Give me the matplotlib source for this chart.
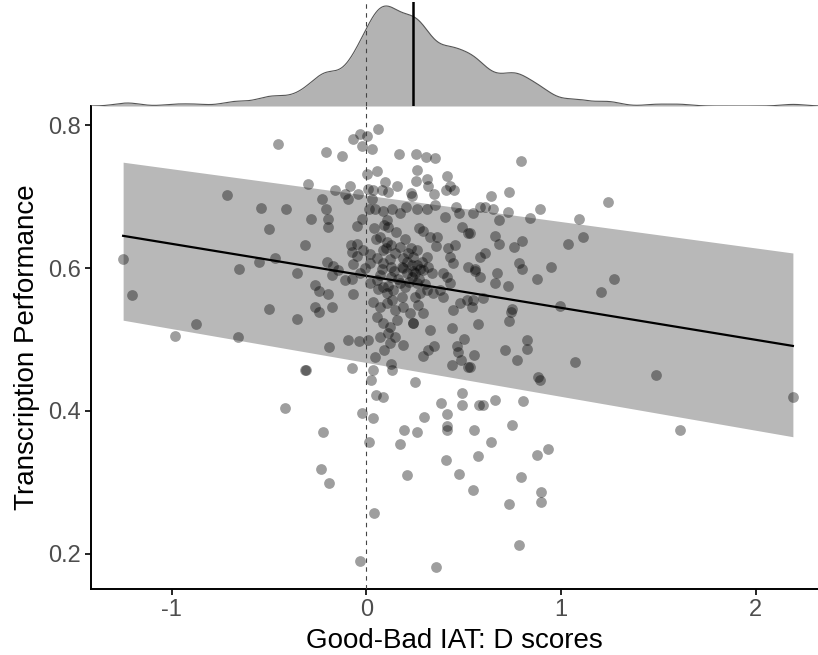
import matplotlib
matplotlib.use("Agg")
import matplotlib.pyplot as plt
import numpy as np

plt.rcParams["font.family"] = ["Liberation Sans", "DejaVu Sans"]

# D scores (x) and transcription performance (y)
iat_d = [
    # far left / outer points
    -1.249, -1.206, -0.985, -0.877, -0.716, -0.658, -0.653, -0.551, -0.542, -0.502,
    -0.500, -0.470, -0.456, -0.413, -0.417,
    # upper cluster
    0.057, -0.033, -0.071, 0.004, -0.025, 0.027, -0.210, -0.126, 0.165, 0.253,
    0.304, 0.352, 0.258, 0.254, 0.056, 0.001, 0.312, 0.415, 0.429, 0.318,
    -0.299, -0.162, -0.085, -0.110, -0.045, -0.093, 0.010, 0.032, 0.078, 0.095,
    0.112, 0.155, 0.227, 0.234, 0.347, 0.407, 0.451, -0.230, 0.027, -0.210,
    -0.196, -0.196, -0.287, -0.025, 0.014, 0.044, 0.083, 0.133, 0.172, 0.203,
    0.258, 0.309, 0.352, 0.271, 0.289, -0.050, 0.040, 0.104, 0.112, 0.403,
    0.460, 0.477, 0.489, 0.523, 0.326, 0.364, 0.357, 0.420, 0.455, -0.316,
    -0.081, -0.050, -0.076, -0.016, -0.047, -0.204, -0.359, -0.171, -0.145,
    # right side
    0.792, 0.733, 0.639, 0.583, 0.609, 0.648, 0.549, 0.728, 0.893, 0.838,
    0.679, 1.240, 1.093, 1.112, 1.035, 0.532, 0.660, 0.679, 0.797, 0.756,
    0.610, 0.785, 0.800, 0.949, 0.556, 0.669, 0.583, 0.874, 1.271,
    0.660, 0.728, 1.203, 0.994, 0.549, 0.600, 0.746, 0.741, 0.733, 0.573,
    0.826, 0.826, 0.713, 0.773, 0.552, 0.532, 1.072, 0.879, 0.891, 1.488,
    0.600, 0.662, 0.804, 0.747, 0.552, 0.638, 2.192, 1.610,
    # lower right
    0.573, 0.874, 0.934, 0.794, 0.547, 0.898, 0.898, 0.732, 0.785,
    # lower middle
    -0.222, 0.014, 0.170, 0.191, 0.258, 0.412, 0.407, 0.475, 0.206, -0.235,
    -0.191, 0.039, -0.032, 0.357,
    # middle band
    -0.179, -0.110, -0.076, -0.265, -0.242, -0.200, -0.068, -0.265, -0.242, -0.176,
    -0.355, -0.191, -0.093, -0.037, 0.009, -0.316, -0.310, -0.076, -0.025, 0.032,
    0.044, 0.032, 0.022, 0.126, 0.133, 0.249, 0.049, 0.086, 0.295, 0.383,
    0.412, 0.415, 0.492, 0.492, 0.578, 0.326, 0.437, 0.500, 0.186, 0.237,
    0.090, 0.292, 0.318, 0.347, 0.437, 0.463, 0.472, 0.484, 0.520,
    # dense centre (upper)
    0.069, 0.104, 0.128, 0.087, 0.146, 0.189, 0.215, 0.240, 0.258, 0.283,
    0.309, 0.232, 0.181, 0.206, 0.249, 0.275, 0.318, 0.335, 0.128, 0.087,
    0.052, 0.018, -0.007, -0.033, -0.068, 0.069, 0.128, 0.394, 0.429, 0.446,
    0.523, 0.557, 0.583,
    # dense centre (lower)
    0.018, 0.052, 0.087, 0.104, 0.138, 0.172, 0.198, 0.232, 0.258, 0.275,
    0.309, 0.343, 0.377, 0.412, 0.429, 0.394, 0.035, 0.069, 0.104, 0.147,
    0.189, 0.223, 0.266, 0.292, 0.052, 0.087, 0.121, 0.155, 0.240, 0.112,
    0.147, 0.069, 0.121, 0.446, 0.480, 0.514, 0.540,
    # overlapping points in the darkest part of the cluster
    0.100, 0.120, 0.140, 0.160, 0.170, 0.190, 0.210, 0.220, 0.240, 0.260,
    0.270, 0.290, 0.300, 0.230, 0.200, 0.110, 0.080, 0.060, 0.130, 0.180,
    0.050, 0.150, 0.090, 0.020, 0.250,
]
performance = [
    0.613, 0.562, 0.505, 0.522, 0.702, 0.503, 0.598, 0.608, 0.684, 0.543,
    0.654, 0.614, 0.774, 0.682, 0.404,
    0.795, 0.788, 0.780, 0.784, 0.770, 0.767, 0.762, 0.757, 0.760, 0.759,
    0.755, 0.754, 0.737, 0.722, 0.736, 0.731, 0.724, 0.728, 0.715, 0.714,
    0.717, 0.709, 0.715, 0.704, 0.703, 0.697, 0.710, 0.709, 0.709, 0.720,
    0.707, 0.714, 0.705, 0.701, 0.704, 0.709, 0.709, 0.697, 0.696, 0.683,
    0.669, 0.657, 0.668, 0.669, 0.683, 0.683, 0.680, 0.682, 0.677, 0.686,
    0.683, 0.682, 0.688, 0.656, 0.652, 0.659, 0.656, 0.667, 0.658, 0.671,
    0.686, 0.677, 0.657, 0.649, 0.643, 0.644, 0.631, 0.628, 0.632, 0.632,
    0.632, 0.634, 0.623, 0.625, 0.617, 0.609, 0.593, 0.603, 0.597,
    0.750, 0.706, 0.701, 0.686, 0.686, 0.683, 0.677, 0.679, 0.682, 0.670,
    0.667, 0.693, 0.669, 0.643, 0.633, 0.649, 0.645, 0.633, 0.638, 0.630,
    0.621, 0.607, 0.599, 0.602, 0.596, 0.593, 0.588, 0.584, 0.585,
    0.579, 0.575, 0.566, 0.547, 0.555, 0.558, 0.542, 0.539, 0.526, 0.521,
    0.499, 0.487, 0.485, 0.471, 0.479, 0.462, 0.469, 0.448, 0.443, 0.450,
    0.409, 0.416, 0.414, 0.381, 0.374, 0.356, 0.419, 0.374,
    0.337, 0.338, 0.347, 0.307, 0.290, 0.287, 0.272, 0.270, 0.212,
    0.370, 0.356, 0.354, 0.373, 0.371, 0.373, 0.332, 0.312, 0.310, 0.319,
    0.299, 0.257, 0.190, 0.182,
    0.590, 0.583, 0.584, 0.576, 0.568, 0.563, 0.563, 0.545, 0.538, 0.545,
    0.529, 0.490, 0.499, 0.498, 0.499, 0.458, 0.458, 0.460, 0.397, 0.390,
    0.475, 0.458, 0.443, 0.466, 0.458, 0.440, 0.422, 0.420, 0.392, 0.411,
    0.396, 0.379, 0.425, 0.409, 0.408, 0.513, 0.516, 0.500, 0.492, 0.523,
    0.485, 0.477, 0.486, 0.491, 0.464, 0.491, 0.482, 0.472, 0.462,
    0.644, 0.637, 0.632, 0.625, 0.621, 0.614, 0.621, 0.616, 0.625, 0.609,
    0.616, 0.604, 0.602, 0.593, 0.593, 0.598, 0.602, 0.593, 0.602, 0.607,
    0.614, 0.607, 0.600, 0.593, 0.605, 0.590, 0.588, 0.593, 0.616, 0.607,
    0.602, 0.598, 0.616,
    0.579, 0.583, 0.574, 0.565, 0.569, 0.579, 0.574, 0.588, 0.579, 0.565,
    0.569, 0.565, 0.569, 0.588, 0.579, 0.560, 0.553, 0.546, 0.551, 0.541,
    0.546, 0.537, 0.548, 0.537, 0.532, 0.523, 0.518, 0.527, 0.523, 0.509,
    0.504, 0.504, 0.495, 0.541, 0.551, 0.555, 0.546,
    0.628, 0.612, 0.596, 0.585, 0.630, 0.600, 0.608, 0.580, 0.596, 0.604,
    0.585, 0.597, 0.578, 0.628, 0.640, 0.575, 0.598, 0.570, 0.555, 0.560,
    0.640, 0.650, 0.660, 0.620, 0.560,
]

# fitted line and prediction band, read at the ends of the data range
fit_x = [-1.25, 2.19]
fit_y = [0.645, 0.491]
band_lo = [0.527, 0.364]
band_hi = [0.748, 0.621]
mean_d = 0.237  # solid line in the marginal panel

x = np.array(iat_d)
y = np.array(performance)

W, H = 818, 655
fig = plt.figure(figsize=(W / 100, H / 100), dpi=100)
ax = fig.add_axes([91 / W, (H - 589) / H, (W - 91) / W, (589 - 106) / H])
axm = fig.add_axes([91 / W, (H - 106) / H, (W - 91) / W, 104 / H], sharex=ax)

xlim = (-1.415, 2.319)
ylim = (0.151, 0.8266)

# main panel
ax.fill_between(fit_x, band_lo, band_hi, color="#b8b8b8", lw=0, zorder=1)
ax.plot(fit_x, fit_y, color="black", lw=1.6, zorder=3)
ax.scatter(x, y, s=60, color="black", alpha=0.38, lw=0, zorder=2)
ax.axvline(0, color="#444444", lw=0.8, ls=(0, (4, 4)), zorder=4)

ax.set_xlim(*xlim)
ax.set_ylim(*ylim)
ax.set_xticks([-1, 0, 1, 2])
ax.set_xticklabels(["-1", "0", "1", "2"])
ax.set_yticks([0.2, 0.4, 0.6, 0.8])
for s in ["top", "right"]:
    ax.spines[s].set_visible(False)
for s in ["left", "bottom"]:
    ax.spines[s].set_linewidth(1.4)
ax.tick_params(length=4, width=1.2, color="black", labelsize=17,
               labelcolor="#4d4d4d", pad=3)
ax.set_xlabel("Good-Bad IAT: D scores", fontsize=20, labelpad=5)
ax.set_ylabel("Transcription Performance", fontsize=20, labelpad=6)

# marginal density of D scores (gaussian kde)
n = len(x)
bw = 0.06
grid = np.linspace(xlim[0], xlim[1], 800)
dens = np.exp(-0.5 * ((grid[:, None] - x[None, :]) / bw) ** 2).sum(axis=1)
dens /= n * bw * np.sqrt(2 * np.pi)

axm.fill_between(grid, 0, dens, color="#b3b3b3", lw=0)
axm.plot(grid, dens, color="#555555", lw=0.8)
axm.axvline(0, color="#444444", lw=0.8, ls=(0, (4, 4)))
axm.axvline(mean_d, color="black", lw=1.8)
axm.set_ylim(0, dens.max() * 1.04)
axm.axis("off")

fig.savefig("out.png", dpi=100)
